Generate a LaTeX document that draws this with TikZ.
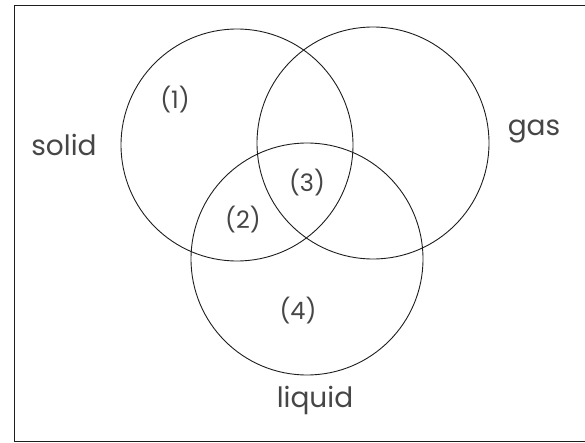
\documentclass[tikz,border=0pt]{standalone}
\usepackage{fontspec}
\setmainfont{Poppins}
\usepackage{tikz}
\usetikzlibrary{shapes.geometric, positioning}
\definecolor{cInk}{RGB}{30,30,30}
\definecolor{cText}{RGB}{70,70,70}
\tikzset{
	phase/.style    ={circle, draw=cInk, line width=0.9pt, minimum size=232pt, inner sep=0pt},
	region/.style   ={text=cText, font=\fontsize{24}{26}\selectfont, inner sep=0pt},
	phaselbl/.style ={text=cText, font=\fontsize{28}{30}\selectfont, inner sep=0pt},
	boxline/.style  ={draw=cInk, line width=0.7pt},
}
\begin{document}
\begin{tikzpicture}[x=1pt, y=-1pt]
	\useasboundingbox (0,0) rectangle (585,443);
	\draw[boxline] (585,5) -- (14,5) -- (14,441) -- (585,441);
	\node[phase] (sol) at (237,145) {};
	\node[phase] (gas) at (373,143) {};
	\node[phase] (liq) at (307,259) {};
	\node[phaselbl] (tsol) at (64,145) {solid};
	\node[phaselbl] (tgas) at (534,131) {gas};
	\node[phaselbl] (tliq) at (315,400) {liquid};
	\node[region] (r1) at (175,100) {(1)};
	\node[region] (r2) at (243,220) {(2)};
	\node[region] (r3) at (307,183) {(3)};
	\node[region] (r4) at (298,311) {(4)};
\end{tikzpicture}
\end{document}
